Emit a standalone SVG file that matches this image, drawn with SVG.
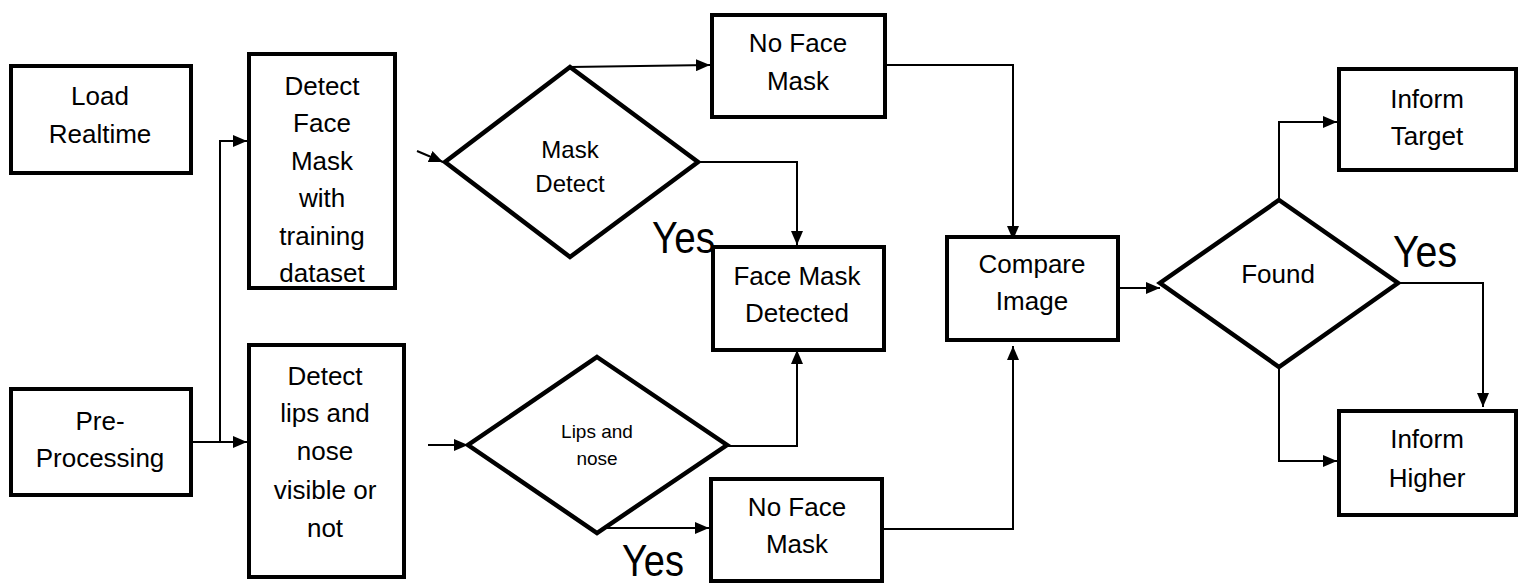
<svg xmlns="http://www.w3.org/2000/svg" width="1522" height="586" viewBox="0 0 1522 586">
<style>
.box{fill:#fff;stroke:#000;stroke-width:4}
.dia{fill:#fff;stroke:#000;stroke-width:4.5;stroke-linejoin:miter}
.t{font-family:"Liberation Sans",Arial,sans-serif;font-size:26px;fill:#000;text-anchor:middle}
.td{font-family:"Liberation Sans",Arial,sans-serif;font-size:24px;fill:#000;text-anchor:middle}
.ts{font-family:"Liberation Sans",Arial,sans-serif;font-size:19px;fill:#000;text-anchor:middle}
.yes{font-family:"Liberation Sans",Arial,sans-serif;font-size:44px;fill:#000}
.c{fill:none;stroke:#000;stroke-width:2}
</style>
<defs>
<marker id="ah" markerWidth="14" markerHeight="12" refX="14" refY="6" orient="auto" markerUnits="userSpaceOnUse"><path d="M0,0 L14,6 L0,12 z" fill="#000"/></marker>
</defs>
<rect width="1522" height="586" fill="#fff"/>
<g id="connectors">
<path class="c" d="M191,442 H247" marker-end="url(#ah)"/>
<path class="c" d="M220,442 V141 H247" marker-end="url(#ah)"/>
<path class="c" d="M417,151 L443,162" marker-end="url(#ah)"/>
<path class="c" d="M570,67 L710,65" marker-end="url(#ah)"/>
<path class="c" d="M698,162 H797 V245" marker-end="url(#ah)"/>
<path class="c" d="M428,445 H468" marker-end="url(#ah)"/>
<path class="c" d="M727,446 H797 V350" marker-end="url(#ah)"/>
<path class="c" d="M590,528 H709" marker-end="url(#ah)"/>
<path class="c" d="M887,65 H1013 V240" marker-end="url(#ah)"/>
<path class="c" d="M884,529 H1013 V346" marker-end="url(#ah)"/>
<path class="c" d="M1120,288 H1160" marker-end="url(#ah)"/>
<path class="c" d="M1279,200 V122 H1337" marker-end="url(#ah)"/>
<path class="c" d="M1398,283 H1483 V407" marker-end="url(#ah)"/>
<path class="c" d="M1279,367 V461 H1337" marker-end="url(#ah)"/>
</g>
<g id="load-realtime">
<rect class="box" x="11" y="66" width="180" height="107"/>
<text class="t" x="100" y="105">Load</text>
<text class="t" x="100" y="143">Realtime</text>
</g>
<g id="detect-face-mask">
<rect class="box" x="249" y="54" width="146" height="234"/>
<text class="t" x="322" y="95">Detect</text>
<text class="t" x="322" y="132">Face</text>
<text class="t" x="322" y="170">Mask</text>
<text class="t" x="322" y="207">with</text>
<text class="t" x="322" y="245">training</text>
<text class="t" x="322" y="282">dataset</text>
</g>
<g id="pre-processing">
<rect class="box" x="11" y="389" width="180" height="106"/>
<text class="t" x="100" y="430">Pre-</text>
<text class="t" x="100" y="467">Processing</text>
</g>
<g id="detect-lips">
<rect class="box" x="249" y="345" width="155" height="232"/>
<text class="t" x="325" y="385">Detect</text>
<text class="t" x="325" y="422">lips and</text>
<text class="t" x="325" y="460">nose</text>
<text class="t" x="325" y="499">visible or</text>
<text class="t" x="325" y="537">not</text>
</g>
<g id="mask-detect">
<polygon class="dia" points="570,67 698,162 570,257 445,162"/>
<text class="td" x="570" y="158">Mask</text>
<text class="td" x="570" y="192">Detect</text>
</g>
<g id="lips-and-nose">
<polygon class="dia" points="597,357 727,445 597,533 468,445"/>
<text class="ts" x="597" y="438">Lips and</text>
<text class="ts" x="597" y="465">nose</text>
</g>
<g id="no-face-mask-top">
<rect class="box" x="712" y="15" width="173" height="102"/>
<text class="t" x="798" y="52">No Face</text>
<text class="t" x="798" y="90">Mask</text>
</g>
<g id="face-mask-detected">
<rect class="box" x="713" y="247" width="171" height="103"/>
<text class="t" x="797" y="285">Face Mask</text>
<text class="t" x="797" y="322">Detected</text>
</g>
<g id="no-face-mask-bottom">
<rect class="box" x="711" y="479" width="171" height="102"/>
<text class="t" x="797" y="516">No Face</text>
<text class="t" x="797" y="553">Mask</text>
</g>
<g id="compare-image">
<rect class="box" x="947" y="237" width="171" height="103"/>
<text class="t" x="1032" y="273">Compare</text>
<text class="t" x="1032" y="310">Image</text>
</g>
<g id="found">
<polygon class="dia" points="1279,200 1398,283 1279,367 1160,283"/>
<text class="t" x="1278" y="283">Found</text>
</g>
<g id="inform-target">
<rect class="box" x="1339" y="69" width="177" height="101"/>
<text class="t" x="1427" y="108">Inform</text>
<text class="t" x="1427" y="145">Target</text>
</g>
<g id="inform-higher">
<rect class="box" x="1339" y="411" width="177" height="104"/>
<text class="t" x="1427" y="448">Inform</text>
<text class="t" x="1427" y="487">Higher</text>
</g>
<g id="labels">
<text class="yes" x="652" y="253" textLength="63" lengthAdjust="spacingAndGlyphs">Yes</text>
<text class="yes" x="622" y="576" font-size="42" textLength="62" lengthAdjust="spacingAndGlyphs">Yes</text>
<text class="yes" x="1393" y="267" textLength="64" lengthAdjust="spacingAndGlyphs">Yes</text>
</g>
</svg>
